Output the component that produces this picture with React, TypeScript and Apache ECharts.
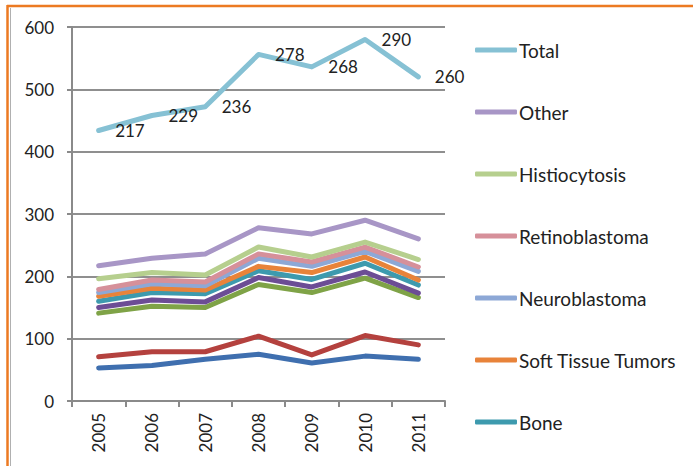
import React, { useEffect, useRef } from "react";
import * as echarts from "echarts";

const years = ["2005", "2006", "2007", "2008", "2009", "2010", "2011"];
const yTicks = { min: 0, max: 600, interval: 100 };

// stacked components (bottom to top)
const seriesBlue = [53, 57, 67, 75, 61, 72, 67];
const seriesRed = [18, 22, 12, 29, 13, 33, 23];
const seriesGreen = [70, 73, 71, 83, 100, 92, 76];
const seriesPurple = [9, 10, 9, 11, 9, 10, 7];
const bone = [10, 12, 13, 11, 12, 14, 13];
const softTissue = [8, 7, 6, 7, 11, 10, 8];
const neuroblastoma = [6, 7, 7, 13, 10, 9, 14];
const retinoblastoma = [5, 6, 6, 7, 7, 7, 7];
const histiocytosis = [17, 12, 11, 11, 8, 8, 12];
const other = [21, 23, 34, 31, 37, 35, 33];
const total = [217, 229, 236, 278, 268, 290, 260];

const legendNames = [
  "Total",
  "Other",
  "Histiocytosis",
  "Retinoblastoma",
  "Neuroblastoma",
  "Soft Tissue Tumors",
  "Bone",
];

const FONT = "Lato, 'Open Sans', sans-serif";
const TOTAL_COLOR = "#86C1D4";

export default function App() {
  const ref = useRef<HTMLDivElement>(null);
  useEffect(() => {
    if (!ref.current) return;
    const chart = echarts.init(ref.current, undefined, { renderer: "svg" });
    const mk = (name: string, data: number[], color: string, extra: any = {}) => ({
      name,
      type: "line",
      stack: "all",
      data,
      symbol: "none",
      lineStyle: { width: 5, color, cap: "round", join: "round" },
      itemStyle: { color },
      ...extra,
    });
    const series = [
      mk("Leukemia", seriesBlue, "#3F6FAF"),
      mk("Lymphoma", seriesRed, "#B4413E"),
      mk("CNS Tumors", seriesGreen, "#7FA347"),
      mk("Renal Tumors", seriesPurple, "#6C4D95"),
      mk("Bone", bone, "#3D9AAE"),
      mk("Soft Tissue Tumors", softTissue, "#E8833A"),
      mk("Neuroblastoma", neuroblastoma, "#8DA8D6"),
      mk("Retinoblastoma", retinoblastoma, "#D6909A"),
      mk("Histiocytosis", histiocytosis, "#B6CF8E"),
      mk("Other", other, "#A896C6"),
      mk("Total", total, TOTAL_COLOR, {
        symbol: "circle",
        symbolSize: 1,
        showSymbol: true,
        itemStyle: { color: "rgba(0,0,0,0)", borderWidth: 0 },
        label: {
          show: true,
          position: "right",
          distance: 16,
          color: "#222",
          fontSize: 17,
          fontFamily: FONT,
          formatter: "{c}",
        },
      }),
    ];
    chart.setOption({
      animation: false,
      backgroundColor: "#fff",
      textStyle: { fontFamily: FONT },
      grid: { left: 72, right: 248, top: 27, bottom: 65 },
      legend: {
        data: legendNames.map((n) =>
          n === "Total" ? { name: n, itemStyle: { color: TOTAL_COLOR } } : { name: n }
        ),
        orient: "vertical",
        left: 475,
        top: 40,
        padding: 0,
        icon: "roundRect",
        itemWidth: 42,
        itemHeight: 5,
        itemGap: 42,
        textStyle: { fontSize: 19, color: "#222", lineHeight: 20, fontFamily: FONT, padding: [0, 0, 0, -3] },
      },
      xAxis: {
        type: "category",
        data: years,
        boundaryGap: true,
        axisLine: { lineStyle: { color: "#8a8a8a", width: 2 } },
        axisTick: { show: true, length: 6, lineStyle: { color: "#8a8a8a", width: 2 } },
        axisLabel: { rotate: 90, fontSize: 17, color: "#222", margin: 12, fontFamily: FONT },
      },
      yAxis: {
        type: "value",
        min: yTicks.min,
        max: yTicks.max,
        interval: yTicks.interval,
        axisLine: { show: true, lineStyle: { color: "#8a8a8a", width: 2 } },
        axisTick: { show: true, length: 5, lineStyle: { color: "#8a8a8a", width: 2 } },
        axisLabel: { fontSize: 17, color: "#222", margin: 18, fontFamily: FONT },
        splitLine: { lineStyle: { color: "#8f8f8f", width: 2 } },
      },
      graphic: [
        { type: "line", shape: { x1: 7, y1: 6, x2: 693, y2: 6 }, style: { stroke: "#EC7A22", lineWidth: 2.5 } },
        { type: "line", shape: { x1: 7.5, y1: 5, x2: 7.5, y2: 466 }, style: { stroke: "#EC7A22", lineWidth: 2.5 } },
        { type: "line", shape: { x1: 10.5, y1: 8, x2: 10.5, y2: 466 }, style: { stroke: "#b0b0b0", lineWidth: 1 } },
      ],
      series,
    });
    return () => chart.dispose();
  }, []);
  return (
    <div
      ref={ref}
      style={{ position: "absolute", left: 0, top: 0, width: 693, height: 466, background: "#fff" }}
    />
  );
}
